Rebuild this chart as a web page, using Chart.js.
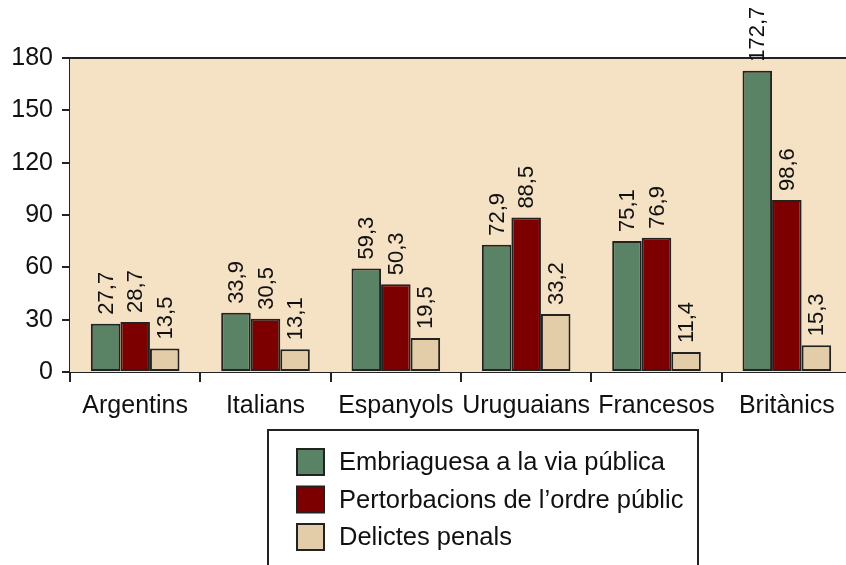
<!DOCTYPE html>
<html>
<head>
<meta charset="utf-8">
<script src="https://cdn.jsdelivr.net/npm/chart.js@4/dist/chart.umd.min.js"></script>
<style>
  html, body { margin: 0; padding: 0; background: #fff; overflow: hidden; }
  #wrap { width: 846px; height: 565px; position: relative; overflow: hidden; }
  #inner { width: 852px; height: 565px; position: relative; }
</style>
</head>
<body>
<div id="wrap"><div id="inner"><canvas id="chart"></canvas></div></div>
<script>
  var categories = ['Argentins', 'Italians', 'Espanyols', 'Uruguaians', 'Francesos', 'Britànics'];
  var seriesNames = ['Embriaguesa a la via pública', 'Pertorbacions de l’ordre públic', 'Delictes penals'];
  var embriaguesa = [27.7, 33.9, 59.3, 72.9, 75.1, 172.7];
  var pertorbacions = [28.7, 30.5, 50.3, 88.5, 76.9, 98.6];
  var delictes = [13.5, 13.1, 19.5, 33.2, 11.4, 15.3];
  var yTicks = [0, 30, 60, 90, 120, 150, 180];

  var colors = ['#5a8366', '#7d0000', '#e2cda8'];
  var FONT = 'Liberation Sans, Arial, sans-serif';

  // background of plot area + top frame line
  var frame = {
    id: 'frame',
    beforeDatasetsDraw: function (chart) {
      var a = chart.chartArea, c = chart.ctx;
      c.save();
      c.fillStyle = '#f5e1c3';
      c.fillRect(a.left, a.top, a.right - a.left, a.bottom - a.top);
      c.strokeStyle = '#222';
      c.lineWidth = 2;
      c.beginPath();
      c.moveTo(a.left, a.top);
      c.lineTo(a.right, a.top);
      c.stroke();
      c.restore();
    }
  };

  // rotated value labels above each bar
  var valueLabels = {
    id: 'valueLabels',
    afterDatasetsDraw: function (chart) {
      var c = chart.ctx;
      c.save();
      c.font = '22px ' + FONT;
      c.fillStyle = '#111';
      c.textAlign = 'left';
      c.textBaseline = 'middle';
      chart.data.datasets.forEach(function (ds, i) {
        chart.getDatasetMeta(i).data.forEach(function (bar, j) {
          var txt = ds.data[j].toFixed(1).replace('.', ',');
          c.save();
          c.translate(bar.x + 1, bar.y - 9);
          c.rotate(-Math.PI / 2);
          c.fillText(txt, 0, 0);
          c.restore();
        });
      });
      c.restore();
    }
  };

  // boxed vertical legend below the axis
  var boxLegend = {
    id: 'boxLegend',
    afterDraw: function (chart) {
      var c = chart.ctx;
      c.save();
      c.fillStyle = '#fff';
      c.fillRect(268, 430, 430, 150);
      c.strokeStyle = '#222';
      c.lineWidth = 2;
      c.strokeRect(268, 430, 430, 150);
      c.font = '25.5px ' + FONT;
      c.textBaseline = 'middle';
      chart.data.datasets.forEach(function (ds, i) {
        var y = 462 + i * 37.5;
        c.fillStyle = ds.backgroundColor;
        c.fillRect(297, y - 13, 27, 26);
        c.strokeStyle = '#222';
        c.lineWidth = 2;
        c.strokeRect(297, y - 13, 27, 26);
        c.fillStyle = '#111';
        c.fillText(ds.label, 339, y + 1);
      });
      c.restore();
    }
  };

  var ctx = document.getElementById('chart');
  var chart = new Chart(ctx, {
    type: 'bar',
    data: {
      labels: categories,
      datasets: [embriaguesa, pertorbacions, delictes].map(function (d, i) {
        return {
          label: seriesNames[i],
          data: d,
          backgroundColor: colors[i],
          borderColor: '#222',
          borderWidth: 2,
          borderSkipped: false,
          categoryPercentage: 0.68,
          barPercentage: 1.0
        };
      })
    },
    options: {
      responsive: true,
      maintainAspectRatio: false,
      animation: false,
      layout: { padding: { top: 58, right: 0, bottom: 143, left: 0 } },
      plugins: {
        legend: { display: false },
        tooltip: { enabled: false }
      },
      scales: {
        x: {
          grid: { display: true, drawOnChartArea: false, drawTicks: true, tickLength: 10, color: '#222', lineWidth: 2, offset: true },
          border: { display: true, color: '#222', width: 2 },
          ticks: { color: '#111', font: { family: FONT, size: 25 }, padding: 9, maxRotation: 0, autoSkip: false },
          afterFit: function (scale) { scale.height = 50; }
        },
        y: {
          min: 0,
          max: 180,
          afterBuildTicks: function (scale) {
            scale.ticks = yTicks.map(function (v) { return { value: v }; });
          },
          grid: { display: true, drawOnChartArea: false, drawTicks: true, tickLength: 8, color: '#222', lineWidth: 2 },
          border: { display: true, color: '#222', width: 2 },
          ticks: { color: '#111', font: { family: FONT, size: 25 }, padding: 9 },
          afterFit: function (scale) { scale.width = 70; }
        }
      }
    },
    plugins: [frame, valueLabels, boxLegend]
  });
</script>
</body>
</html>
